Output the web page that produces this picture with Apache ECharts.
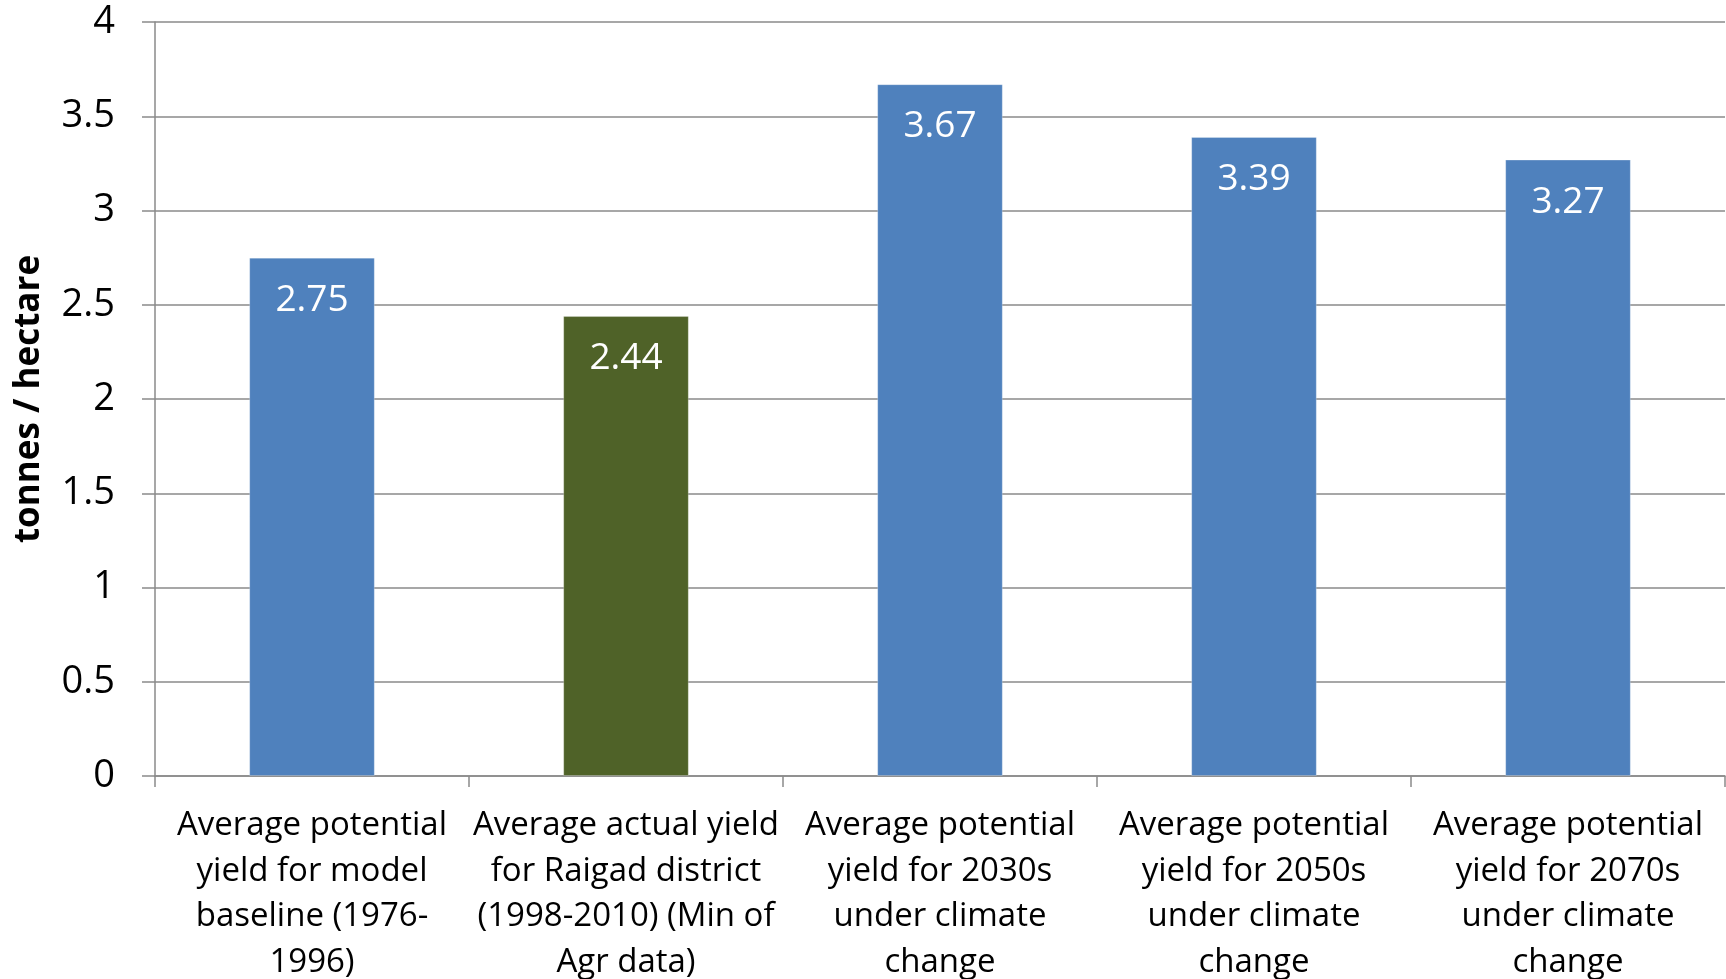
<!DOCTYPE html>
<html>
<head>
<meta charset="utf-8">
<script src="https://cdn.jsdelivr.net/npm/echarts@6/dist/echarts.min.js"></script>
<style>
  html, body { margin: 0; padding: 0; background: #fff; }
  #chart { width: 1726px; height: 979px; }
</style>
</head>
<body>
<div id="chart"></div>
<script>
// categories (line breaks as in the original labels)
const categories = [
  "Average potential\nyield for model\nbaseline (1976-\n1996)",
  "Average actual yield\nfor Raigad district\n(1998-2010) (Min of\nAgr data)",
  "Average potential\nyield for 2030s\nunder climate\nchange",
  "Average potential\nyield for 2050s\nunder climate\nchange",
  "Average potential\nyield for 2070s\nunder climate\nchange",
];
const yieldValues = [2.75, 2.44, 3.67, 3.39, 3.27];
const barColors = ["#4F81BD", "#4F6228", "#4F81BD", "#4F81BD", "#4F81BD"];
const yAxisName = "tonnes / hectare";

const font = "'Open Sans', sans-serif";
const gray = "#8a8a8a";

const chart = echarts.init(document.getElementById("chart"));

const options = {
  animation: false,
  grid: {
    left: 155,
    right: 1,
    top: 22,
    bottom: 203,
    outerBoundsMode: "none",
  },
  xAxis: {
    type: "category",
    data: categories,
    axisLine: { lineStyle: { color: gray, width: 1.5 } },
    axisTick: { show: true, length: 11, lineStyle: { color: gray, width: 1.5 } },
    axisLabel: {
      interval: 0,
      margin: 27,
      color: "#000",
      fontFamily: font,
      fontSize: 33,
      lineHeight: 45.5,
      align: "center",
    },
  },
  yAxis: {
    type: "value",
    min: 0,
    max: 4,
    interval: 0.5,
    name: yAxisName,
    nameLocation: "middle",
    nameGap: 108,
    nameTextStyle: {
      color: "#000",
      fontFamily: font,
      fontSize: 35,
      fontWeight: "bold",
    },
    axisLine: { show: true, lineStyle: { color: gray, width: 1.5 } },
    axisTick: { show: true, length: 13, lineStyle: { color: gray, width: 1.5 } },
    axisLabel: {
      margin: 40,
      color: "#000",
      fontFamily: font,
      fontSize: 38,
    },
    splitLine: { lineStyle: { color: gray, width: 1.5 } },
  },
  series: [
    {
      type: "bar",
      barWidth: "40%",
      data: yieldValues.map((v, i) => ({
        value: v,
        itemStyle: { color: barColors[i] },
      })),
      itemStyle: { borderColor: "rgba(255,255,255,0.25)", borderWidth: 1 },
      label: {
        show: true,
        position: "insideTop",
        distance: 24,
        color: "#fff",
        fontFamily: font,
        fontSize: 37,
        formatter: "{c}",
      },
    },
  ],
};

chart.setOption(options);
window.addEventListener("resize", () => chart.resize());
</script>
</body>
</html>
